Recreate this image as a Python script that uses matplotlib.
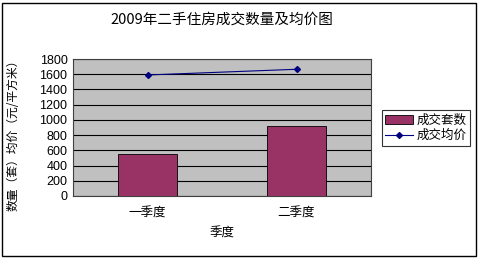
import numpy as np
import matplotlib.pyplot as plt
from matplotlib.patches import Rectangle

plt.rcParams['font.family'] = ['Noto Sans CJK SC', 'DejaVu Sans']

quarters = ['一季度', '二季度']
volume = [548, 920]        # 成交套数
avg_price = [1590, 1665]   # 成交均价
y_ticks = [0, 200, 400, 600, 800, 1000, 1200, 1400, 1600, 1800]

fig = plt.figure(figsize=(4.8, 2.59), dpi=100)
ax = fig.add_axes([73 / 480, 1 - 196 / 259, 298 / 480, 137 / 259])
ax.set_facecolor('#c0c0c0')

x = np.arange(len(quarters))
bars = ax.bar(x, volume, width=0.4, color='#993366', edgecolor='black', linewidth=0.6,
              label='成交套数', zorder=3)
line, = ax.plot(x, avg_price, color='#000080', marker='D', markersize=3, linewidth=0.8,
                label='成交均价', zorder=4)

ax.set_xlim(-0.5, 1.5)
ax.set_ylim(0, 1800)
ax.set_yticks(y_ticks)
ax.set_yticklabels([str(v) for v in y_ticks], fontsize=9, family=['Liberation Sans'])
ax.set_xticks(x)
ax.set_xticklabels(quarters, fontsize=9)
ax.tick_params(axis='x', length=0, pad=8)
ax.tick_params(axis='y', length=0, pad=4)
ax.grid(axis='y', color='black', linewidth=0.8, zorder=1)
for s in ax.spines.values():
    s.set_color('#404040')
    s.set_linewidth(0.8)

ax.set_xlabel('季度', fontsize=9, labelpad=5)
fig.text(13 / 480, 1 - 132 / 259, '数量（套）均价（元/平方米）', rotation=90,
         ha='center', va='center', fontsize=8.5)
fig.text(222 / 480, 1 - 20 / 259, '2009年二手住房成交数量及均价图', ha='center',
         va='center', fontsize=10.5)

leg = fig.legend([bars, line], ['成交套数', '成交均价'], loc='center',
                 bbox_to_anchor=(426 / 480, 1 - 128 / 259), fontsize=9,
                 frameon=True, fancybox=False, edgecolor='black', handlelength=2.2,
                 borderpad=0.3, labelspacing=0.2, handletextpad=0.3)
leg.get_frame().set_linewidth(0.8)

fig.patches.append(Rectangle((2 / 480, 3 / 259), 474 / 480, 253 / 259, transform=fig.transFigure,
                             fill=False, edgecolor='black', linewidth=1))

fig.savefig('out.png', dpi=100)
